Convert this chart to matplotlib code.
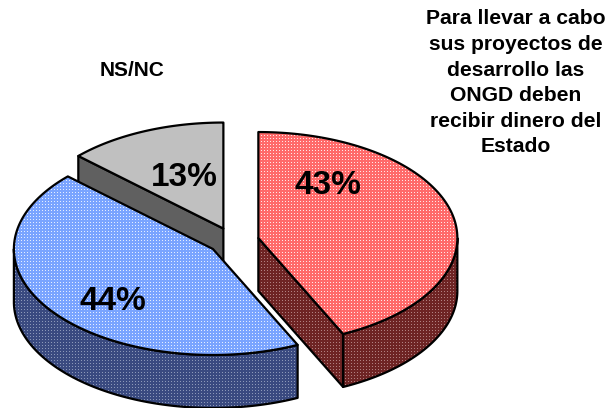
import numpy as np
import matplotlib

matplotlib.use("Agg")
import matplotlib.pyplot as plt  # noqa: E402
from matplotlib.patches import Polygon  # noqa: E402

# clockwise from 12 o'clock
shares = [43, 44, 13]
share_labels = ["43%", "44%", "13%"]
top_colors = [("#ff6a6a", "#ffe8e8"), ("#7aa4ff", "#e4edff"), ("#c0c0c0", "#c0c0c0")]
wall_colors = [("#6e2424", "#b08080"), ("#3a4a80", "#8c98b8"), ("#606060", "#606060")]
label_pos = [(328, 185), (113, 301), (184, 178)]
draw_order = [2, 0, 1]

title_left = "NS/NC"
title_right = (
    "Para llevar a cabo\nsus proyectos de\ndesarrollo las\n"
    "ONGD deben\nrecibir dinero del\nEstado"
)

W, H = 612, 408
CX, CY = 233.5, 241
RX, RY = 199, 106
DEPTH = 53
EXPLODE = 0.128

plt.rcParams["font.family"] = ["Liberation Sans", "DejaVu Sans"]


def _pt(th, c):
    return c[0] + RX * np.sin(th), c[1] - RY * np.cos(th)


def _arc(t0, t1, c):
    th = np.linspace(t0, t1, 120)
    return np.column_stack([c[0] + RX * np.sin(th), c[1] - RY * np.cos(th)])


def _fill(ax, verts, colors, zorder):
    # sparse light dots on a base colour, clipped to the outline
    yy, xx = np.mgrid[0:H, 0:W]
    mask = ((xx % 3 == 0) & (yy % 3 == 0)).astype(float)
    rgb0 = np.array(matplotlib.colors.to_rgb(colors[0]))
    rgb1 = np.array(matplotlib.colors.to_rgb(colors[1]))
    img = rgb0 + (rgb1 - rgb0) * mask[..., None]
    im = ax.imshow(img, extent=(0, W, H, 0), interpolation="nearest", zorder=zorder)
    outline = Polygon(
        verts, closed=True, facecolor="none", edgecolor="black", lw=1.6,
        joinstyle="round", zorder=zorder + 0.1,
    )
    ax.add_patch(outline)
    im.set_clip_path(outline)


def draw_slice(ax, t0, t1, top, wall, zorder):
    mid = (t0 + t1) / 2
    c = (CX + EXPLODE * RX * np.sin(mid), CY - EXPLODE * RY * np.cos(mid))
    down = np.array([0, DEPTH])
    # straight walls that face the viewer
    if t0 > np.pi:
        a = np.array(_pt(t0, c))
        _fill(ax, [a, c, c + down, a + down], wall, zorder)
    if t1 < np.pi:
        a = np.array(_pt(t1, c))
        _fill(ax, [c, a, a + down, c + down], wall, zorder)
    # outer rim, front half only
    lo, hi = max(t0, np.pi / 2), min(t1, 3 * np.pi / 2)
    if hi > lo:
        rim = _arc(lo, hi, c)
        _fill(ax, np.vstack([rim, rim[::-1] + down]), wall, zorder)
    _fill(ax, np.vstack([[c], _arc(t0, t1, c)]), top, zorder + 0.5)


fig = plt.figure(figsize=(W / 100, H / 100), dpi=100)
ax = fig.add_axes([0, 0, 1, 1])

edges = np.concatenate([[0], np.cumsum(shares)]) / np.sum(shares) * 2 * np.pi
for i in draw_order:
    draw_slice(ax, edges[i], edges[i + 1], top_colors[i], wall_colors[i], 2 + draw_order.index(i))

for s, (x, y) in zip(share_labels, label_pos):
    ax.text(x, y, s, ha="center", va="center", fontsize=24, fontweight="bold", zorder=10)

ax.text(132.5, 70, title_left, ha="center", va="center", fontsize=15, fontweight="bold")
ax.text(
    516, 83, title_right, ha="center", va="center", fontsize=15.2,
    fontweight="bold", linespacing=1.44,
)

ax.set_xlim(0, W)
ax.set_ylim(H, 0)
ax.axis("off")
fig.savefig("out.png", dpi=100)
